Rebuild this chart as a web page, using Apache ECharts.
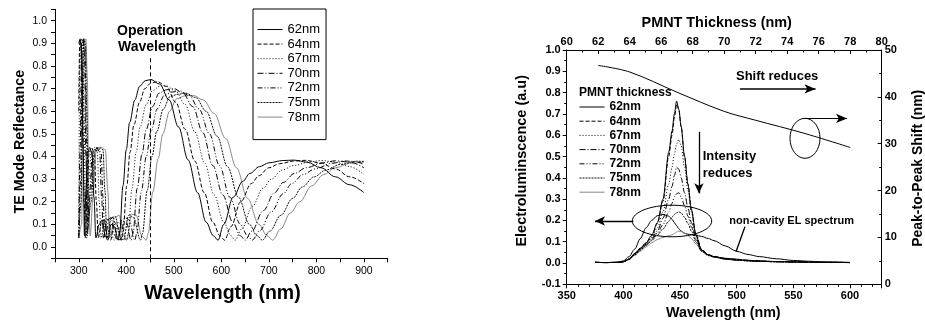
<!DOCTYPE html>
<html><head><meta charset="utf-8">
<script src="https://cdn.jsdelivr.net/npm/echarts/dist/echarts.min.js"></script>
<style>html,body{margin:0;padding:0;background:#fff}#c{width:925px;height:322px}</style>
</head><body><div id="c"></div>
<script>
// ---------- DATA ----------
const thicknessNames = ['62nm','64nm','67nm','70nm','72nm','75nm','78nm'];

// Left chart: TE mode reflectance vs wavelength, [wavelength nm, reflectance]
const te62 = [[300,0.90],[303,0.92],[306,0.86],[309,0.45],[312,0.05],[315,0.25],[318,0.41],[323,0.44],[328,0.41],[332,0.22],[336,0.04],[343,0.10],[349,0.12],[356,0.05],[361,0.03],[368,0.10],[375,0.09],[383,0.03],[386,0.06],[393,0.27],[400,0.43],[407,0.55],[418,0.65],[428,0.71],[440,0.735],[452,0.74],[470,0.72],[490,0.65],[510,0.53],[530,0.385],[550,0.24],[568,0.11],[583,0.05],[593,0.03],[605,0.10],[625,0.22],[645,0.29],[660,0.325],[680,0.355],[700,0.372],[730,0.382],[752,0.384],[780,0.375],[810,0.35],[840,0.31],[870,0.275],[900,0.24]];
const te64 = [[300,0.60],[302,0.91],[305,0.90],[308,0.70],[311,0.20],[314,0.04],[318,0.28],[322,0.42],[327,0.44],[333,0.41],[337,0.20],[341,0.04],[348,0.11],[354,0.12],[361,0.04],[367,0.03],[375,0.11],[382,0.09],[390,0.03],[393,0.06],[401,0.27],[408,0.42],[416,0.54],[428,0.64],[439,0.70],[452,0.725],[466,0.73],[484,0.71],[504,0.64],[524,0.52],[544,0.38],[564,0.24],[582,0.11],[597,0.05],[607,0.03],[620,0.09],[641,0.20],[663,0.28],[679,0.315],[700,0.35],[722,0.368],[754,0.38],[778,0.383],[810,0.37],[840,0.345],[870,0.31],[900,0.28]];
const te67 = [[300,0.10],[302,0.80],[305,0.92],[308,0.90],[311,0.60],[314,0.15],[317,0.04],[321,0.30],[327,0.43],[333,0.44],[339,0.42],[343,0.20],[347,0.04],[355,0.11],[362,0.125],[369,0.05],[375,0.03],[383,0.11],[390,0.10],[400,0.03],[404,0.06],[412,0.26],[421,0.42],[429,0.53],[442,0.63],[455,0.69],[470,0.71],[484,0.712],[503,0.69],[524,0.63],[544,0.51],[565,0.37],[585,0.23],[605,0.11],[620,0.05],[629,0.03],[643,0.08],[665,0.18],[688,0.26],[705,0.30],[728,0.34],[752,0.36],[786,0.376],[810,0.382],[840,0.375],[870,0.355],[900,0.32]];
const te70 = [[300,0.05],[303,0.45],[306,0.90],[309,0.92],[312,0.86],[315,0.40],[318,0.05],[323,0.25],[329,0.42],[337,0.44],[344,0.42],[348,0.22],[352,0.04],[360,0.12],[368,0.13],[376,0.05],[382,0.03],[391,0.12],[400,0.11],[410,0.03],[414,0.06],[423,0.26],[433,0.41],[442,0.52],[455,0.62],[469,0.68],[485,0.695],[500,0.70],[519,0.68],[540,0.62],[561,0.505],[582,0.36],[603,0.23],[624,0.11],[640,0.05],[650,0.03],[664,0.07],[688,0.16],[712,0.24],[730,0.285],[754,0.325],[778,0.35],[814,0.372],[840,0.381],[870,0.375],[900,0.35]];
const te72 = [[300,0.04],[304,0.30],[307,0.88],[310,0.92],[313,0.88],[316,0.50],[319,0.08],[324,0.22],[331,0.42],[340,0.44],[347,0.42],[351,0.22],[355,0.04],[364,0.12],[372,0.13],[380,0.05],[387,0.03],[397,0.13],[406,0.12],[418,0.03],[422,0.06],[432,0.25],[442,0.40],[452,0.51],[465,0.61],[480,0.67],[497,0.685],[512,0.69],[532,0.67],[553,0.61],[575,0.50],[596,0.36],[618,0.22],[640,0.10],[655,0.05],[665,0.03],[680,0.07],[705,0.155],[730,0.235],[748,0.28],[772,0.32],[797,0.345],[833,0.37],[860,0.38],[880,0.378],[900,0.365]];
const te75 = [[300,0.04],[305,0.20],[308,0.80],[311,0.92],[314,0.90],[317,0.60],[320,0.12],[326,0.20],[333,0.42],[343,0.44],[351,0.43],[355,0.25],[359,0.04],[369,0.13],[377,0.135],[386,0.05],[394,0.03],[405,0.14],[415,0.13],[430,0.03],[434,0.06],[444,0.25],[454,0.40],[464,0.51],[478,0.61],[492,0.665],[509,0.675],[525,0.68],[546,0.66],[568,0.60],[591,0.49],[613,0.355],[636,0.22],[659,0.10],[675,0.05],[686,0.03],[702,0.07],[725,0.14],[750,0.215],[770,0.265],[795,0.31],[820,0.34],[850,0.365],[885,0.379],[900,0.378]];
const te78 = [[300,0.04],[306,0.10],[309,0.70],[312,0.91],[315,0.92],[318,0.75],[321,0.20],[324,0.05],[330,0.22],[336,0.42],[347,0.44],[356,0.43],[361,0.25],[365,0.04],[376,0.13],[385,0.14],[394,0.05],[401,0.03],[411,0.145],[421,0.14],[432,0.05],[442,0.03],[446,0.06],[456,0.245],[467,0.39],[477,0.50],[491,0.60],[506,0.655],[523,0.668],[540,0.67],[562,0.65],[585,0.59],[609,0.48],[632,0.35],[655,0.215],[679,0.10],[696,0.05],[708,0.03],[725,0.08],[745,0.15],[765,0.20],[790,0.27],[815,0.32],[840,0.35],[870,0.37],[900,0.375]];

// Right chart: EL spectra
const elWavelength = [375,385,395,400,405,410,415,420,425,430,435,440,443,445,447,449,451,454,457,460,464,469,475,480,490,500,510,520,535,550,565,580,600];
const el62 = [0.003,0.002,0.003,0.006,0.018,0.045,0.07,0.095,0.13,0.19,0.30,0.52,0.62,0.70,0.76,0.72,0.64,0.50,0.37,0.25,0.13,0.06,0.038,0.03,0.022,0.018,0.013,0.01,0.007,0.005,0.004,0.003,0.002];
const el64 = [0.003,0.002,0.003,0.006,0.018,0.044,0.068,0.093,0.128,0.185,0.29,0.50,0.60,0.68,0.745,0.72,0.64,0.50,0.37,0.255,0.135,0.063,0.04,0.031,0.022,0.017,0.012,0.009,0.006,0.005,0.004,0.003,0.002];
const el67 = [0.003,0.002,0.003,0.006,0.018,0.043,0.066,0.09,0.12,0.165,0.24,0.37,0.45,0.51,0.56,0.58,0.55,0.45,0.34,0.24,0.14,0.065,0.04,0.03,0.02,0.015,0.011,0.008,0.006,0.005,0.004,0.003,0.002];
const el70 = [0.003,0.002,0.003,0.006,0.018,0.042,0.064,0.088,0.115,0.15,0.21,0.30,0.36,0.41,0.45,0.44,0.40,0.33,0.26,0.19,0.12,0.06,0.038,0.03,0.02,0.014,0.011,0.008,0.006,0.005,0.004,0.003,0.002];
const el72 = [0.003,0.002,0.003,0.006,0.018,0.04,0.062,0.085,0.11,0.14,0.18,0.24,0.28,0.31,0.325,0.33,0.31,0.27,0.22,0.17,0.11,0.06,0.037,0.029,0.019,0.014,0.01,0.008,0.006,0.005,0.004,0.003,0.002];
const el75 = [0.003,0.002,0.003,0.006,0.017,0.038,0.06,0.082,0.105,0.13,0.16,0.195,0.215,0.228,0.236,0.24,0.235,0.215,0.185,0.15,0.10,0.055,0.035,0.028,0.018,0.013,0.01,0.008,0.006,0.005,0.004,0.003,0.002];
const el78 = [0.003,0.002,0.003,0.006,0.016,0.035,0.055,0.075,0.095,0.11,0.12,0.128,0.132,0.138,0.145,0.15,0.148,0.14,0.13,0.115,0.09,0.055,0.035,0.027,0.018,0.013,0.01,0.008,0.006,0.005,0.004,0.003,0.002];
const elNonCavity = [0.003,0.002,0.004,0.01,0.03,0.065,0.115,0.165,0.20,0.222,0.228,0.22,0.205,0.19,0.175,0.16,0.15,0.14,0.135,0.133,0.13,0.125,0.115,0.105,0.08,0.055,0.04,0.03,0.02,0.012,0.008,0.005,0.003];

// Peak-to-peak shift vs PMNT thickness
const pmntThickness = [62,64,67,70,72,75,78];
const peakShift = [46.7,45.3,41.0,36.9,35.0,32.3,29.2];

// ---------- STYLES ----------
const FONT = '"Liberation Sans", Arial, Helvetica, sans-serif';
const lineTypes = ['solid',[4,2],[1,2],[6,2,1,2],[5,2,1,2,1,2],[2,1],'solid'];
const lineColors = ['#000','#000','#000','#000','#000','#111','#888'];
const teData = [te62,te64,te67,te70,te72,te75,te78];
const elData = [el62,el64,el67,el70,el72,el75,el78];

const chart = echarts.init(document.getElementById('c'), null, {renderer:'canvas'});

const axisCommon = {
  axisLine:{show:true,onZero:false,lineStyle:{color:'#000',width:1}},
  axisTick:{show:true,length:4,lineStyle:{color:'#000',width:1}},
  splitLine:{show:false}
};

const series = [];
teData.forEach((d,i)=>{
  const s = {
    name: thicknessNames[i], type:'line', xAxisIndex:0, yAxisIndex:0,
    data: d, symbol:'none', smooth:0.35, smoothMonotone:'x',
    lineStyle:{color:lineColors[i], width:1, type:lineTypes[i]},
    itemStyle:{color:lineColors[i]}, z: 10-i
  };
  if(i===0){
    s.markLine = {silent:true, symbol:'none', label:{show:false},
      lineStyle:{color:'#000',width:1,type:[4,3]},
      data:[[{coord:[450,-0.05]},{coord:[450,0.84]}]]};
  }
  series.push(s);
});
elData.forEach((d,i)=>{
  const s = {
    name: thicknessNames[i], type:'line', xAxisIndex:1, yAxisIndex:1,
    data: elWavelength.map((w,k)=>[w,d[k]]), symbol:'none', smooth:0.3, smoothMonotone:'x',
    lineStyle:{color:lineColors[i], width:1, type:lineTypes[i]},
    itemStyle:{color:lineColors[i]}, z: 10-i
  };
  if(i===0){
    s.markLine = {silent:true, label:{show:false}, symbolSize:[7,10],
      lineStyle:{color:'#000',width:1.3,type:'solid'},
      data:[
        [{coord:[466.7,0.616],symbol:'none'},{coord:[466.7,0.327],symbol:'arrow'}],
        [{coord:[408.8,0.197],symbol:'none'},{coord:[375.0,0.197],symbol:'arrow'}],
        [{coord:[507.3,0.170],symbol:'none'},{coord:[499.4,0.053],symbol:'none'}]
      ]};
  }
  series.push(s);
});
series.push({
  name:'non-cavity', type:'line', xAxisIndex:1, yAxisIndex:1,
  data: elWavelength.map((w,k)=>[w,elNonCavity[k]]), symbol:'none', smooth:0.3, smoothMonotone:'x',
  lineStyle:{color:'#000',width:1}, itemStyle:{color:'#000'}
});
series.push({
  name:'shift', type:'line', xAxisIndex:2, yAxisIndex:2,
  data: pmntThickness.map((t,k)=>[t,peakShift[k]]), symbol:'none', smooth:0.35,
  lineStyle:{color:'#000',width:1}, itemStyle:{color:'#000'},
  markLine:{silent:true, label:{show:false}, symbolSize:[7,11],
    lineStyle:{color:'#000',width:1.6,type:'solid'},
    data:[
      [{coord:[71.0,41.7],symbol:'none'},{coord:[75.8,41.7],symbol:'arrow'}],
      [{coord:[75.1,35.4],symbol:'none',lineStyle:{width:1}},{coord:[77.8,35.4],symbol:'arrow'}]
    ]}
});

function txt(x,y,text,font,rot,align){
  return {type:'text', x:x, y:y, rotation:rot||0, silent:true, z:100,
    style:{text:text, font:font, fill:'#000', textAlign:align||'center', textVerticalAlign:'middle',
      align:align||'center', verticalAlign:'middle'}};
}

const hiddenSymbol = {color:'rgba(0,0,0,0)', borderColor:'rgba(0,0,0,0)', borderWidth:0, opacity:0};

const option = {
  animation:false,
  backgroundColor:'#fff',
  textStyle:{fontFamily:FONT},
  grid:[
    {left:55, top:9.4, width:332.7, height:248.9},
    {left:566.7, top:50, width:315, height:234.3}
  ],
  legend:[
    {data:thicknessNames, orient:'vertical', left:253, top:9, itemWidth:25, itemHeight:10, itemGap:1.6,
     padding:[14,6,16,4], borderColor:'#000', borderWidth:1, selectedMode:false,
     itemStyle:hiddenSymbol, lineStyle:{width:1},
     textStyle:{fontFamily:FONT,fontSize:13,color:'#000'}},
    {data:thicknessNames, orient:'vertical', left:579, top:101, itemWidth:25, itemHeight:10, itemGap:2.2,
     padding:0, selectedMode:false,
     itemStyle:hiddenSymbol, lineStyle:{width:1},
     textStyle:{fontFamily:FONT,fontSize:12,fontWeight:'bold',color:'#000'}}
  ],
  xAxis:[
    Object.assign({}, axisCommon, {gridIndex:0, type:'value', min:250, max:950, interval:50, position:'bottom',
      axisLabel:{color:'#000',fontFamily:FONT,fontSize:10.5,margin:7,showMinLabel:true,showMaxLabel:true,
        formatter:v=>(Math.round(v)%100===0 && v>=300 && v<=900)?String(Math.round(v)):''}}),
    Object.assign({}, axisCommon, {gridIndex:1, type:'value', min:350, max:628, interval:50, position:'bottom',
      minorTick:{show:true,splitNumber:5,length:2.5,lineStyle:{color:'#000'}},
      axisLabel:{color:'#000',fontFamily:FONT,fontSize:11,fontWeight:'bold',margin:6,showMaxLabel:false,
        formatter:v=>(Math.round(v)%50===0)?String(Math.round(v)):''}}),
    Object.assign({}, axisCommon, {gridIndex:1, type:'value', min:60, max:80, interval:2, position:'top',
      axisTick:{show:true,length:4,inside:true,lineStyle:{color:'#000'}},
      minorTick:{show:true,splitNumber:2,length:2.5,lineStyle:{color:'#000'}},
      axisLabel:{color:'#000',fontFamily:FONT,fontSize:11,fontWeight:'bold',margin:3}})
  ],
  yAxis:[
    Object.assign({}, axisCommon, {gridIndex:0, type:'value', min:-0.05, max:1.05, interval:0.05, position:'left',
      axisLabel:{color:'#000',fontFamily:FONT,fontSize:10.5,margin:8,
        formatter:v=>{const k=Math.round(v*100); return (k%10===0 && k>=0)?(Math.abs(k)/100).toFixed(1):'';}}}),
    Object.assign({}, axisCommon, {gridIndex:1, type:'value', min:-0.1, max:1.0, interval:0.1, position:'left',
      minorTick:{show:true,splitNumber:2,length:2.5,lineStyle:{color:'#000'}},
      axisLabel:{color:'#000',fontFamily:FONT,fontSize:11,fontWeight:'bold',margin:6,
        formatter:v=>{const k=Math.round(v*10); return (k/10).toFixed(1);}}}),
    Object.assign({}, axisCommon, {gridIndex:1, type:'value', min:0, max:50, interval:10, position:'right',
      axisTick:{show:true,length:4,inside:true,lineStyle:{color:'#000'}},
      minorTick:{show:true,splitNumber:2,length:2.5,lineStyle:{color:'#000'}},
      axisLabel:{color:'#000',fontFamily:FONT,fontSize:11,fontWeight:'bold',margin:3}})
  ],
  series: series,
  graphic:[
    txt(20,141.7,'TE Mode Reflectance','bold 14.3px '+FONT,Math.PI/2),
    txt(222.5,293.5,'Wavelength (nm)','bold 19.5px '+FONT),
    txt(117,30.7,'Operation','bold 14px '+FONT,0,'left'),
    txt(118,46.7,'Wavelength','bold 14px '+FONT,0,'left'),
    txt(716.7,22.7,'PMNT Thickness (nm)','bold 14.4px '+FONT),
    txt(723.3,313,'Wavelength (nm)','bold 14.3px '+FONT),
    txt(521.7,160.8,'Electroluminscence (a.u)','bold 14.5px '+FONT,Math.PI/2),
    txt(918,168.3,'Peak-to-Peak Shift (nm)','bold 14px '+FONT,Math.PI/2),
    txt(579,93,'PMNT thickness','bold 12px '+FONT,0,'left'),
    txt(736,76.7,'Shift reduces','bold 13px '+FONT,0,'left'),
    txt(702.7,156.7,'Intensity','bold 13px '+FONT,0,'left'),
    txt(702.7,173.3,'reduces','bold 13px '+FONT,0,'left'),
    txt(729.3,221,'non-cavity EL spectrum','bold 11px '+FONT,0,'left'),
    {type:'ellipse', silent:true, z:100, shape:{cx:805,cy:138.3,rx:15,ry:20}, style:{fill:'none',stroke:'#000',lineWidth:1}},
    {type:'ellipse', silent:true, z:100, shape:{cx:672,cy:221,rx:39.7,ry:15.8}, style:{fill:'none',stroke:'#000',lineWidth:1}}
  ]
};
chart.setOption(option);
</script></body></html>
